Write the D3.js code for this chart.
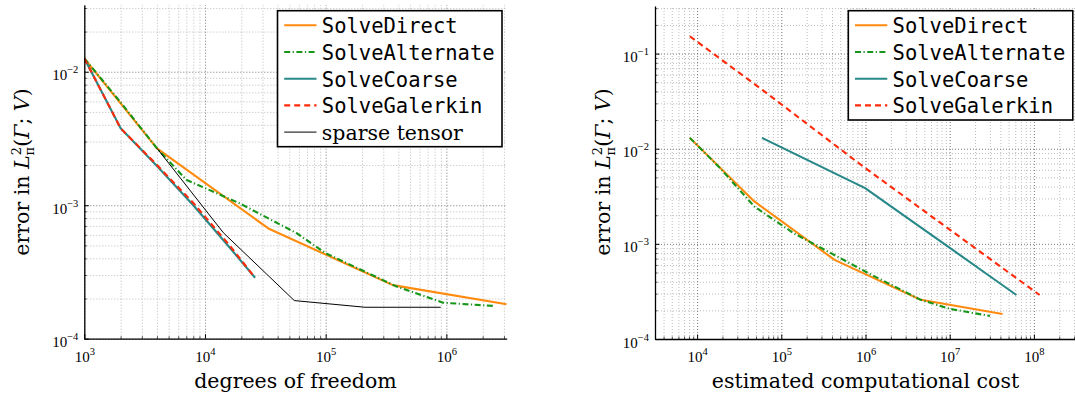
<!DOCTYPE html>
<html><head><meta charset="utf-8">
<script src="https://cdn.jsdelivr.net/npm/d3@7"></script>
<style>body{margin:0;background:#fff;overflow:hidden}</style>
</head><body>
<svg id="chart" width="1075" height="399"></svg>
<script>
// ---------------- data ----------------
const seriesNames = ["SolveDirect", "SolveAlternate", "SolveCoarse", "SolveGalerkin", "sparse tensor"];

// left panel: error vs degrees of freedom
const dofDirect    = [1e3, 4e3, 3.35e4, 3.6e5, 3.16e6];
const errDirect    = [1.26e-2, 2.67e-3, 6.7e-4, 2.52e-4, 1.81e-4];
const dofAlternate = [1e3, 2e3, 4e3, 7e3, 1.95e4, 5.75e4, 1e5, 3.87e5, 9.4e5, 2.45e6];
const errAlternate = [1.26e-2, 5.9e-3, 2.67e-3, 1.55e-3, 1.03e-3, 6.17e-4, 4.37e-4, 2.46e-4, 1.86e-4, 1.76e-4];
const dofCoarse    = [1e3, 2e3, 4e3, 8e3, 1.6e4, 2.6e4];
const errCoarse    = [1.26e-2, 3.77e-3, 1.97e-3, 1.0e-3, 4.82e-4, 2.86e-4];
const dofGalerkin  = [1e3, 2e3, 4e3, 8e3, 1.6e4, 2.6e4];
const errGalerkin  = [1.26e-2, 3.77e-3, 2.0e-3, 1.04e-3, 5.0e-4, 2.86e-4];
const dofSparse    = [4e3, 1.42e4, 5.5e4, 2.12e5, 8.98e5];
const errSparse    = [2.67e-3, 6.22e-4, 1.93e-4, 1.72e-4, 1.72e-4];

// right panel: error vs estimated computational cost
const costDirect    = [8.2e3, 4.78e4, 4.29e5, 4.53e6, 4.24e7];
const errDirectC    = [1.3e-2, 2.79e-3, 6.79e-4, 2.58e-4, 1.83e-4];
const costAlternate = [8.2e3, 1.87e4, 4.78e4, 1.39e5, 1.08e6, 4.53e6, 1.01e7, 3.0e7];
const errAlternateC = [1.3e-2, 6.27e-3, 2.47e-3, 1.3e-3, 4.92e-4, 2.58e-4, 2.07e-4, 1.75e-4];
const costCoarse    = [5.9e4, 9.9e5, 2.9e6, 8.6e6, 2.75e7, 6.2e7];
const errCoarseC    = [1.3e-2, 3.85e-3, 1.97e-3, 1.0e-3, 4.82e-4, 2.9e-4];
const costGalerkin  = [8.2e3, 5.9e4, 9.9e5, 8e6, 1.17e8];
const errGalerkinC  = [1.52e-1, 4.18e-2, 6.27e-3, 1.63e-3, 2.9e-4];

const xTicksDof  = [1e3, 1e4, 1e5, 1e6];
const xTicksCost = [1e4, 1e5, 1e6, 1e7, 1e8];
const yTicksDof  = [1e-4, 1e-3, 1e-2];
const yTicksCost = [1e-4, 1e-3, 1e-2, 1e-1];
const xLabelDof  = "degrees of freedom";
const xLabelCost = "estimated computational cost";

// ---------------- styles ----------------
const styles = {
  "SolveDirect":    {color: "#ff8a0d", width: 2.1, dash: null},
  "SolveAlternate": {color: "#17961a", width: 2.1, dash: "6,2.5,1.2,2.5"},
  "SolveCoarse":    {color: "#288888", width: 2.1, dash: null},
  "SolveGalerkin":  {color: "#ff2a0a", width: 2.1, dash: "6,4"},
  "sparse tensor":  {color: "#000000", width: 1.0, dash: null}
};
const serif = "'DejaVu Serif', serif";
const tickSerif = "'Liberation Serif', serif";
const mono = "'DejaVu Sans Mono', monospace";

const svg = d3.select("#chart");

function zip(xs, ys) { return xs.map((x, i) => [x, ys[i]]); }

function minorValues(domain) {
  const out = [];
  const lo = Math.floor(Math.log10(domain[0])), hi = Math.ceil(Math.log10(domain[1]));
  for (let k = lo; k <= hi; k++) for (let m = 1; m <= 9; m++) {
    const v = m * Math.pow(10, k);
    if (v >= domain[0] * 0.999 && v <= domain[1] * 1.001) out.push({v, major: m === 1});
  }
  return out;
}

function drawPanel(p) {
  const x = d3.scaleLog().domain(p.xDomain).range(p.xRange);
  const y = d3.scaleLog().domain(p.yDomain).range(p.yRange);
  const g = svg.append("g");
  const W = p.xRange[1] - p.xRange[0];
  const H = p.yRange[0] - p.yRange[1];
  const id = "clip" + p.name;
  svg.append("clipPath").attr("id", id).append("rect")
    .attr("x", p.xRange[0]).attr("y", p.yRange[1]).attr("width", W).attr("height", H);

  const xs = minorValues(p.xDomain), ys = minorValues(p.yDomain);
  const gridStyle = (sel, major) => {
    sel.select(".domain").remove();
    sel.selectAll("text").remove();
    sel.selectAll("line").attr("stroke", major ? "#6a6a6a" : "#b4b4b4")
      .attr("stroke-width", 0.9).attr("stroke-dasharray", "1,2");
  };
  [false, true].forEach(major => {
    g.append("g").attr("transform", `translate(0,${p.yRange[0]})`)
      .call(d3.axisBottom(x).tickValues(xs.filter(d => d.major === major).map(d => d.v)).tickSize(-H).tickFormat(""))
      .call(s => gridStyle(s, major));
    g.append("g").attr("transform", `translate(${p.xRange[0]},0)`)
      .call(d3.axisLeft(y).tickValues(ys.filter(d => d.major === major).map(d => d.v)).tickSize(-W).tickFormat(""))
      .call(s => gridStyle(s, major));
  });

  const line = d3.line().x(d => x(d[0])).y(d => y(d[1]));
  const lg = g.append("g").attr("clip-path", `url(#${id})`);
  p.series.forEach(s => {
    const st = styles[s.name];
    lg.append("path").datum(zip(s.xs, s.ys)).attr("d", line)
      .attr("fill", "none").attr("stroke", st.color).attr("stroke-width", st.width)
      .attr("stroke-dasharray", st.dash).attr("stroke-linejoin", "round");
  });

  const tickStyle = (sel) => { sel.select(".domain").remove(); sel.selectAll("line").attr("stroke", "#222").attr("stroke-width", 0.8); };
  g.append("g").attr("transform", `translate(0,${p.yRange[0]})`)
    .call(d3.axisBottom(x).tickValues(xs.filter(d => !d.major).map(d => d.v)).tickSize(-2.5).tickFormat(""))
    .call(tickStyle);
  g.append("g").attr("transform", `translate(${p.xRange[0]},0)`)
    .call(d3.axisLeft(y).tickValues(ys.filter(d => !d.major).map(d => d.v)).tickSize(-2.5).tickFormat(""))
    .call(tickStyle);

  const labelIt = (sel, isX) => {
    sel.select(".domain").attr("stroke", "#000").attr("stroke-width", 1.3);
    sel.selectAll("line").attr("stroke", "#000").attr("stroke-width", 1);
    sel.selectAll("text").each(function(d) {
      const t = d3.select(this);
      const e = Math.round(Math.log10(d));
      t.text(null).attr("dy", 0).style("font-family", tickSerif).style("font-size", "15px").attr("fill", "#000");
      if (isX) t.attr("y", 23); else t.attr("x", -6).attr("y", 8);
      t.append("tspan").text("10");
      t.append("tspan").attr("dy", -7).style("font-size", "10.5px").text(String(e).replace("-", "\u2212"));
    });
  };
  g.append("g").attr("transform", `translate(0,${p.yRange[0]})`)
    .call(d3.axisBottom(x).tickValues(p.xTicks).tickSize(-4.5).tickSizeOuter(0))
    .call(s => labelIt(s, true));
  g.append("g").attr("transform", `translate(${p.xRange[0]},0)`)
    .call(d3.axisLeft(y).tickValues(p.yTicks).tickSize(-4.5).tickSizeOuter(0))
    .call(s => labelIt(s, false));

  g.append("text").attr("x", (p.xRange[0] + p.xRange[1]) / 2).attr("y", 388)
    .attr("text-anchor", "middle").style("font-family", serif).style("font-size", "20.5px")
    .text(p.xLabel);
  const t = g.append("text").attr("transform", `translate(${p.yLabelX},172) rotate(-90)`)
    .attr("text-anchor", "middle").style("font-family", serif).style("font-size", "20.5px");
  t.append("tspan").text("error in ");
  t.append("tspan").style("font-style", "italic").text("L");
  t.append("tspan").attr("dy", -8).style("font-size", "13px").text("2");
  t.append("tspan").attr("dx", -8.3).attr("dy", 13).style("font-size", "13px").text("\u03C0");
  t.append("tspan").attr("dy", -5).text("(");
  t.append("tspan").style("font-style", "italic").text("\u0393");
  t.append("tspan").text("; ");
  t.append("tspan").style("font-style", "italic").text("V");
  t.append("tspan").text(")");

  const L = p.legend;
  const rowH = 26.7;
  const lgd = g.append("g");
  lgd.append("rect").attr("x", L.x).attr("y", 10.7).attr("width", 224.5)
    .attr("height", p.series.length * rowH + 2.5)
    .attr("fill", "#fff").attr("stroke", "#000").attr("stroke-width", 1.6);
  p.series.forEach((s, i) => {
    const st = styles[s.name];
    const base = 33.3 + i * rowH;
    lgd.append("line").attr("x1", L.x + 6.7).attr("x2", L.x + 39).attr("y1", base - 8).attr("y2", base - 8)
      .attr("stroke", st.color).attr("stroke-width", st.width).attr("stroke-dasharray", st.dash);
    lgd.append("text").attr("x", L.x + 44.3).attr("y", base)
      .style("font-family", s.name === "sparse tensor" ? serif : mono)
      .style("font-size", "20.5px").text(s.name);
  });
}

drawPanel({
  name: "dof",
  xDomain: [1e3, Math.pow(10, 6.5)], xRange: [84.3, 506.7],
  yDomain: [1e-4, Math.pow(10, -1.5)], yRange: [338.7, 5],
  xTicks: xTicksDof, yTicks: yTicksDof, xLabel: xLabelDof, yLabelX: 28.5,
  legend: {x: 277.5},
  series: [
    {name: seriesNames[0], xs: dofDirect, ys: errDirect},
    {name: seriesNames[1], xs: dofAlternate, ys: errAlternate},
    {name: seriesNames[2], xs: dofCoarse, ys: errCoarse},
    {name: seriesNames[3], xs: dofGalerkin, ys: errGalerkin},
    {name: seriesNames[4], xs: dofSparse, ys: errSparse}
  ]
});

drawPanel({
  name: "cost",
  xDomain: [Math.pow(10, 3.5), Math.pow(10, 8.5)], xRange: [655, 1076],
  yDomain: [1e-4, Math.pow(10, -0.5)], yRange: [339, 6],
  xTicks: xTicksCost, yTicks: yTicksCost, xLabel: xLabelCost, yLabelX: 609.5,
  legend: {x: 848.3},
  series: [
    {name: seriesNames[0], xs: costDirect, ys: errDirectC},
    {name: seriesNames[1], xs: costAlternate, ys: errAlternateC},
    {name: seriesNames[2], xs: costCoarse, ys: errCoarseC},
    {name: seriesNames[3], xs: costGalerkin, ys: errGalerkinC}
  ]
});
</script>
</body></html>
